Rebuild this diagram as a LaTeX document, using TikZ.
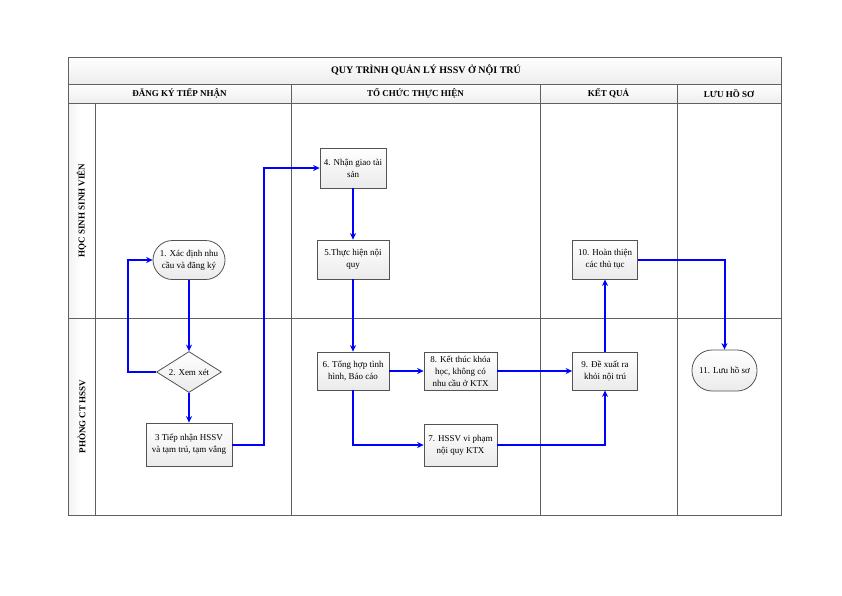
\documentclass[tikz,border=0pt]{standalone}
\usepackage{fontspec}
\setmainfont{Liberation Serif}
\usetikzlibrary{shapes.geometric,arrows.meta}
\begin{document}
\begin{tikzpicture}[x=1pt,y=-1pt,
 gridline/.style={draw=gray!75!black, line width=0.8pt},
 cell/.style={gridline, top color=white, bottom color=gray!14},
 strip/.style={gridline, left color=gray!10, right color=white, middle color=white},
 box/.style={draw=gray!65!black, line width=0.8pt, top color=white, bottom color=gray!16, align=center, font=\fontsize{9}{12}\selectfont, inner sep=1pt},
 headtxt/.style={font=\bfseries\fontsize{9}{10}\selectfont},
 flow/.style={draw=blue, line width=2pt, -{Stealth[length=6.5pt,width=6pt]}},
]
\useasboundingbox (0,0) rectangle (842,595);
\fill[white] (0,0) rectangle (842,595);
% title and headers
\draw[cell] (68,57) rectangle (781,84);
\draw[cell] (68,84) rectangle (291,103);
\draw[cell] (291,84) rectangle (540,103);
\draw[cell] (540,84) rectangle (677,103);
\draw[cell] (677,84) rectangle (781,103);
\node[font=\bfseries\fontsize{10}{11}\selectfont] (title) at (426,70.5) {QUY TRÌNH QUẢN LÝ HSSV Ở NỘI TRÚ};
\node[headtxt] (h1) at (179.5,93.5) {ĐĂNG KÝ TIẾP NHẬN};
\node[headtxt] (h2) at (415.5,93.5) {TỔ CHỨC THỰC HIỆN};
\node[headtxt] (h3) at (608.5,93.5) {KẾT QUẢ};
\node[headtxt] (h4) at (729,93.5) {LƯU HỒ SƠ};
% lane strips
\draw[strip] (68,103) rectangle (95,318);
\draw[strip] (68,318) rectangle (95,515);
\node[headtxt, rotate=90] (l1) at (81.5,210.5) {HỌC SINH SINH VIÊN};
\node[headtxt, rotate=90] (l2) at (81.5,416.5) {PHÒNG CT HSSV};
% grid lines
\draw[gridline] (68,57) rectangle (781,515);
\draw[gridline] (95,318) -- (781,318);
\draw[gridline] (291,103) -- (291,515);
\draw[gridline] (540,103) -- (540,515);
\draw[gridline] (677,103) -- (677,515);
% nodes
\node[box, rounded corners=19.5pt, minimum width=72, minimum height=39] (n1) at (189,260) {1. Xác định nhu\\cầu và đăng ký};
\node[box, diamond, aspect=1.6, minimum width=65, minimum height=41, inner sep=0pt] (n2) at (189,372) {2. Xem xét};
\node[box, minimum width=86, minimum height=43] (n3) at (189,444.5) {3 Tiếp nhận HSSV\\và tạm trú, tạm vắng};
\node[box, minimum width=66, minimum height=40] (n4) at (353,168) {4. Nhận giao tài\\sản};
\node[box, minimum width=72, minimum height=39] (n5) at (353,259.5) {5.Thực hiện nội\\quy};
\node[box, minimum width=72, minimum height=38] (n6) at (353,371) {6. Tổng hợp tình\\hình, Báo cáo};
\node[box, minimum width=73, minimum height=38] (n8) at (460.5,371) {8. Kết thúc khóa\\học, không có\\nhu cầu ở KTX};
\node[box, minimum width=73, minimum height=42] (n7) at (460.5,445) {7. HSSV vi phạm\\nội quy KTX};
\node[box, minimum width=65, minimum height=38] (n9) at (605,371) {9. Đề xuất ra\\khỏi nội trú};
\node[box, minimum width=65, minimum height=39] (n10) at (605,259.5) {10. Hoàn thiện\\các thủ tục};
\node[box, rounded corners=20pt, minimum width=65, minimum height=41] (n11) at (724.5,370.5) {11. Lưu hồ sơ};
% connectors
\draw[flow] (n1) -- (n2);
\draw[flow] (n2.west) -- ++(-28,0) |- (n1.west);
\draw[flow] (n2) -- (n3);
\draw[flow] (n3.east) -- ++(32,0) |- (n4.west);
\draw[flow] (n4) -- (n5);
\draw[flow] (n5) -- (n6);
\draw[flow] (n6) -- (n8);
\draw[flow] (n6.south) |- (n7.west);
\draw[flow] (n8) -- (n9);
\draw[flow] (n7.east) -| (n9.south);
\draw[flow] (n9) -- (n10);
\draw[flow] (n10.east) -| (n11.north);
\end{tikzpicture}
\end{document}
